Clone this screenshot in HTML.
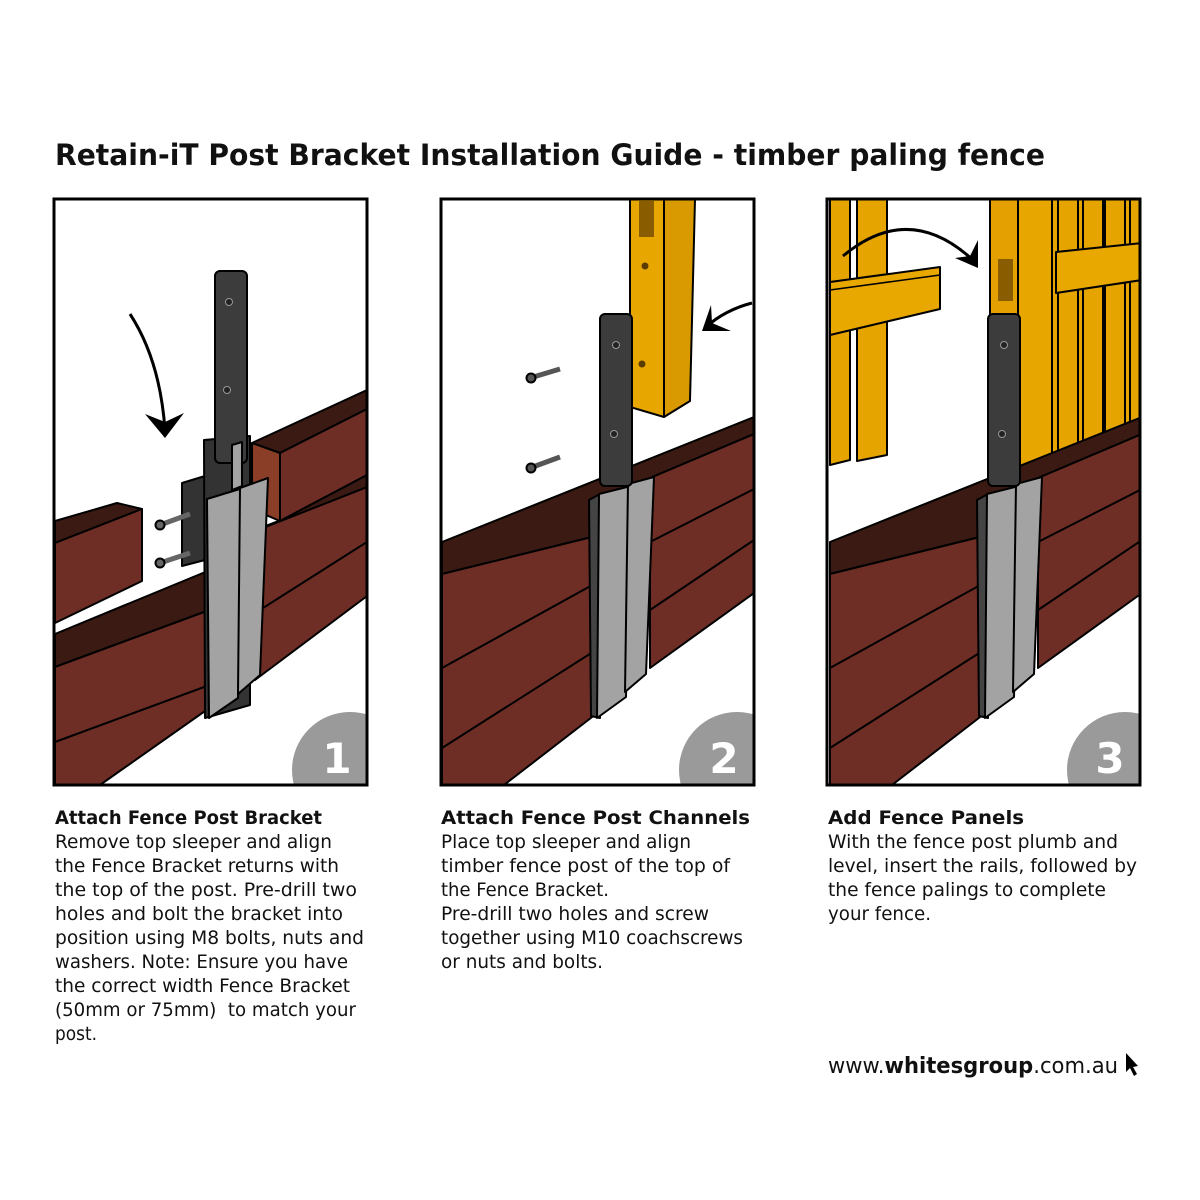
<!DOCTYPE html>
<html><head><meta charset="utf-8"><style>html,body{margin:0;padding:0;background:#fff}svg{display:block}</style></head>
<body>
<svg width="1200" height="1200" viewBox="0 0 1200 1200" xmlns="http://www.w3.org/2000/svg" font-family="'DejaVu Sans','Liberation Sans',sans-serif">
<defs>
<clipPath id="c1"><rect x="54" y="199" width="313" height="586"/></clipPath>
<clipPath id="c2"><rect x="441" y="199" width="313" height="586"/></clipPath>
<clipPath id="c3"><rect x="827" y="199" width="313" height="586"/></clipPath>
<g id="base" stroke="#000" stroke-width="2" stroke-linejoin="round">
  <polygon points="442,542 754,417 754,434 650,478 596,536 442,574" fill="#3a1a12"/>
  <polygon points="650,478 754,434 754,593 650,668" fill="#6e2e26"/>
  <polygon points="442,574 596,536 596,714 504,785 442,785" fill="#6e2e26"/>
  <line x1="442" y1="668" x2="596" y2="583"/><line x1="442" y1="748" x2="596" y2="650"/>
  <line x1="650" y1="542" x2="754" y2="489"/><line x1="650" y1="610" x2="754" y2="540"/>
  <polygon points="589,500 600,494 600,718 591,716" fill="#444"/>
  <polygon points="599,494 631,486 626,697 597,718" fill="#a3a3a3"/>
  <polygon points="628,484 654,477 646,674 625,692" fill="#a3a3a3"/>
  <rect x="600" y="314" width="32" height="172" rx="5" fill="#3c3c3c"/>
  <circle cx="616" cy="345" r="3.5" fill="#222" stroke="#999" stroke-width="1"/>
  <circle cx="614" cy="434" r="3.5" fill="#222" stroke="#999" stroke-width="1"/>
  <circle cx="737" cy="770" r="58" fill="#9a9a9a" stroke="none"/>
</g>
</defs>
<rect width="1200" height="1200" fill="#fff"/>
<text x="55" y="165" font-size="29" font-weight="bold" textLength="990" lengthAdjust="spacingAndGlyphs" fill="#111">Retain-iT Post Bracket Installation Guide - timber paling fence</text>

<!-- PANEL 1 -->
<g clip-path="url(#c1)" stroke="#000" stroke-width="2" stroke-linejoin="round">
  <polygon points="255,530 367,487 367,596 255,680" fill="#6e2e26"/>
  <line x1="263" y1="608" x2="367" y2="542"/>
  <polygon points="252,443 367,390 367,409 280,453" fill="#3a1a12"/>
  <polygon points="280,453 367,409 367,475 280,521" fill="#6e2e26"/>
  <polygon points="252,443 280,453 280,521 252,509" fill="#8a3e28"/>
  <polygon points="280,521 367,475 367,487 263,528" fill="#3a1a12"/>
  <polygon points="55,521 117,503 142,509 55,543" fill="#3a1a12"/>
  <polygon points="55,543 142,509 142,581 55,623" fill="#6e2e26"/>
  <polygon points="55,634 215,568 215,608 55,667" fill="#3a1a12"/>
  <polygon points="55,667 215,608 215,704 100,785 55,785" fill="#6e2e26"/>
  <line x1="55" y1="742" x2="215" y2="683"/>
  <polygon points="182,483 205,476 205,560 182,566" fill="#333"/>
  <line x1="160" y1="525" x2="190" y2="514" stroke="#666" stroke-width="5"/>
  <line x1="160" y1="563" x2="190" y2="553" stroke="#666" stroke-width="5"/>
  <circle cx="160" cy="525" r="4.5" fill="#666"/><circle cx="160" cy="563" r="4.5" fill="#666"/>
  <polygon points="204,440 250,436 250,705 205,718" fill="#333"/>
  <rect x="215" y="271" width="32" height="192" rx="5" fill="#3c3c3c"/>
  <circle cx="229" cy="302" r="3.5" fill="#222" stroke="#999" stroke-width="1"/>
  <circle cx="227" cy="390" r="3.5" fill="#222" stroke="#999" stroke-width="1"/>
  <polygon points="232,445 242,442 242,486 232,490" fill="#a3a3a3"/>
  <polygon points="207,499 243,488 238,698 209,718" fill="#a3a3a3"/>
  <polygon points="240,488 268,478 260,675 238,694" fill="#a3a3a3"/>
  <path d="M130,314 Q160,360 165,430" fill="none" stroke-width="3"/>
  <polygon points="145,414 165,438 184,413 165,422" fill="#000" stroke="none"/>
  <circle cx="350" cy="770" r="58" fill="#9a9a9a" stroke="none"/>
</g>
<text x="337" y="773" font-size="42" font-weight="bold" fill="#fff" text-anchor="middle">1</text>
<rect x="54" y="199" width="313" height="586" fill="none" stroke="#000" stroke-width="3"/>

<!-- PANEL 2 -->
<g clip-path="url(#c2)" stroke="#000" stroke-width="2" stroke-linejoin="round">
  <polygon points="630,199 664,199 664,417 630,407" fill="#e8a600"/>
  <polygon points="664,199 695,199 690,401 664,417" fill="#d89a00"/>
  <rect x="639" y="201" width="15" height="36" fill="#8a5c00" stroke="none"/>
  <circle cx="645" cy="266" r="3.5" fill="#5a3c00" stroke="none"/>
  <circle cx="642" cy="364" r="3.5" fill="#5a3c00" stroke="none"/>
  <use href="#base"/>
  <line x1="530" y1="378" x2="560" y2="369" stroke="#555" stroke-width="5"/>
  <line x1="530" y1="468" x2="560" y2="457" stroke="#555" stroke-width="5"/>
  <circle cx="531" cy="378" r="4.5" fill="#555"/><circle cx="531" cy="468" r="4.5" fill="#555"/>
  <path d="M752,303 Q725,310 706,327" fill="none" stroke-width="3"/>
  <polygon points="711,305 702,331 731,331 712,323" fill="#000" stroke="none"/>
</g>
<text x="724" y="773" font-size="42" font-weight="bold" fill="#fff" text-anchor="middle">2</text>
<rect x="441" y="199" width="313" height="586" fill="none" stroke="#000" stroke-width="3"/>

<!-- PANEL 3 -->
<g clip-path="url(#c3)" stroke="#000" stroke-width="2" stroke-linejoin="round">
  <polygon points="830,199 850,199 850,460 830,465" fill="#e5a400"/>
  <polygon points="857,199 887,199 887,455 857,461" fill="#e5a400"/>
  <polygon points="830,282 940,267 940,309 830,335" fill="#e8a800"/>
  <line x1="830" y1="290" x2="940" y2="275" stroke-width="1.5"/>
  <rect x="1052" y="199" width="90" height="260" fill="#e5a400"/>
  <line x1="1058" y1="199" x2="1058" y2="460"/><line x1="1078" y1="199" x2="1078" y2="455"/>
  <line x1="1083" y1="199" x2="1083" y2="452"/><line x1="1103" y1="199" x2="1103" y2="447"/>
  <line x1="1105" y1="199" x2="1105" y2="446"/><line x1="1125" y1="199" x2="1125" y2="440"/>
  <line x1="1130" y1="199" x2="1130" y2="438"/>
  <polygon points="1056,252 1142,243 1142,280 1056,293" fill="#e8a800"/>
  <polygon points="990,199 1025,199 1025,483 990,483" fill="#e3a000"/>
  <polygon points="1018,199 1052,199 1052,470 1018,483" fill="#e8a600"/>
  <rect x="998" y="259" width="15" height="42" fill="#8a5c00" stroke="none"/>
  <use href="#base" transform="translate(388,0)"/>
  <path d="M843,256 Q910,200 975,262" fill="none" stroke-width="3"/>
  <polygon points="955,258 978,268 978,240 970,256" fill="#000" stroke="none"/>
</g>
<text x="1110" y="773" font-size="42" font-weight="bold" fill="#fff" text-anchor="middle">3</text>
<rect x="827" y="199" width="313" height="586" fill="none" stroke="#000" stroke-width="3"/>

<!-- TEXT -->
<g font-size="19" fill="#111">
<text x="55" y="824" font-weight="bold" textLength="267" lengthAdjust="spacingAndGlyphs">Attach Fence Post Bracket</text>
<text x="55" y="848" textLength="277" lengthAdjust="spacingAndGlyphs">Remove top sleeper and align</text>
<text x="55" y="872" textLength="284" lengthAdjust="spacingAndGlyphs">the Fence Bracket returns with</text>
<text x="55" y="896" textLength="302" lengthAdjust="spacingAndGlyphs">the top of the post. Pre-drill two</text>
<text x="55" y="920" textLength="288" lengthAdjust="spacingAndGlyphs">holes and bolt the bracket into</text>
<text x="55" y="944" textLength="309" lengthAdjust="spacingAndGlyphs">position using M8 bolts, nuts and</text>
<text x="55" y="968" textLength="293" lengthAdjust="spacingAndGlyphs">washers. Note: Ensure you have</text>
<text x="55" y="992" textLength="295" lengthAdjust="spacingAndGlyphs">the correct width Fence Bracket</text>
<text x="55" y="1016" textLength="301" lengthAdjust="spacingAndGlyphs" xml:space="preserve">(50mm or 75mm)  to match your</text>
<text x="55" y="1040" textLength="42" lengthAdjust="spacingAndGlyphs">post.</text>

<text x="441" y="824" font-weight="bold" textLength="309" lengthAdjust="spacingAndGlyphs">Attach Fence Post Channels</text>
<text x="441" y="848" textLength="250" lengthAdjust="spacingAndGlyphs">Place top sleeper and align</text>
<text x="441" y="872" textLength="289" lengthAdjust="spacingAndGlyphs">timber fence post of the top of</text>
<text x="441" y="896" textLength="168" lengthAdjust="spacingAndGlyphs">the Fence Bracket.</text>
<text x="441" y="920" textLength="268" lengthAdjust="spacingAndGlyphs">Pre-drill two holes and screw</text>
<text x="441" y="944" textLength="302" lengthAdjust="spacingAndGlyphs">together using M10 coachscrews</text>
<text x="441" y="968" textLength="162" lengthAdjust="spacingAndGlyphs">or nuts and bolts.</text>

<text x="828" y="824" font-weight="bold" textLength="196" lengthAdjust="spacingAndGlyphs">Add Fence Panels</text>
<text x="828" y="848" textLength="290" lengthAdjust="spacingAndGlyphs">With the fence post plumb and</text>
<text x="828" y="872" textLength="309" lengthAdjust="spacingAndGlyphs">level, insert the rails, followed by</text>
<text x="828" y="896" textLength="278" lengthAdjust="spacingAndGlyphs">the fence palings to complete</text>
<text x="828" y="920" textLength="103" lengthAdjust="spacingAndGlyphs">your fence.</text>
</g>
<text x="828" y="1073" font-size="22" fill="#111" textLength="290" lengthAdjust="spacingAndGlyphs">www.<tspan font-weight="bold">whitesgroup</tspan>.com.au</text>
<polygon points="1126,1053 1126,1072 1130,1068 1134,1076 1137,1074 1133,1067 1138,1066" fill="#000"/>
</svg>
</body></html>
